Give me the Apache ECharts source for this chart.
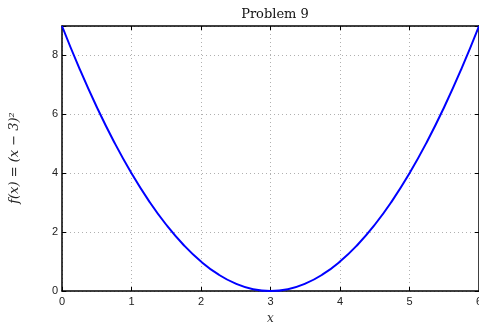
<!DOCTYPE html>
<html><head><meta charset="utf-8">
<script src="https://cdn.jsdelivr.net/npm/echarts@6/dist/echarts.min.js"></script>
<style>html,body{margin:0;padding:0;background:#fff}#c{width:479px;height:325px}</style>
</head><body><div id="c"></div>
<script>
const xValues = [0,0.25,0.5,0.75,1,1.25,1.5,1.75,2,2.25,2.5,2.75,3,3.25,3.5,3.75,4,4.25,4.5,4.75,5,5.25,5.5,5.75,6];
const yValues = [9,7.5625,6.25,5.0625,4,3.0625,2.25,1.5625,1,0.5625,0.25,0.0625,0,0.0625,0.25,0.5625,1,1.5625,2.25,3.0625,4,5.0625,6.25,7.5625,9];
const xTicks = [0,1,2,3,4,5,6];
const yTicks = [0,2,4,6,8];
const titleText = 'Problem 9';
const xLabel = 'x';

const chart = echarts.init(document.getElementById('c'), null, {renderer:'canvas'});
const axisLine = {show:true, onZero:false, lineStyle:{color:'#000', width:1.5}};
const gridLine = {show:true, lineStyle:{color:'#b0b0b0', width:1, type:[1,3]}};
const tickLbl = {fontFamily:'Liberation Sans, Arial, sans-serif', fontSize:11, color:'#222'};
chart.setOption({
  animation:false,
  title:{text:titleText, left:270, top:3, textAlign:'center',
    textStyle:{fontFamily:'DejaVu Serif, Liberation Serif, serif', fontWeight:'normal', fontSize:13, color:'#111'}},
  grid:{left:62, right:0, top:26, bottom:34, containLabel:false, outerBoundsMode:'none'},
  xAxis:[
    {type:'value', min:0, max:6, interval:1, position:'bottom',
     axisLine, axisTick:{show:true, inside:true, length:4, lineStyle:{color:'#000'}},
     splitLine:gridLine, axisLabel:Object.assign({margin:5, formatter:v=>xTicks.includes(v)?String(v):''}, tickLbl),
     name:xLabel, nameLocation:'middle', nameGap:22,
     nameTextStyle:{fontFamily:'DejaVu Serif, Liberation Serif, serif', fontStyle:'italic', fontSize:12, color:'#333'}},
    {type:'value', min:0, max:6, interval:1, position:'top',
     axisLine, axisTick:{show:true, inside:true, length:4, lineStyle:{color:'#000'}},
     splitLine:{show:false}, axisLabel:{show:false}}
  ],
  yAxis:[
    {type:'value', min:0, max:9, interval:2, position:'left',
     axisLine, axisTick:{show:true, inside:true, length:4, lineStyle:{color:'#000'}},
     splitLine:gridLine, axisLabel:Object.assign({margin:4, formatter:v=>yTicks.includes(v)?String(v):''}, tickLbl)},
    {type:'value', min:0, max:9, interval:2, position:'right',
     axisLine, axisTick:{show:true, inside:true, length:4, lineStyle:{color:'#000'}},
     splitLine:{show:false}, axisLabel:{show:false}}
  ],
  graphic:[{
    type:'text', x:15, y:158, rotation:Math.PI/2,
    style:{text:'f(x) = (x − 3)²', fill:'#222', fontFamily:'DejaVu Serif, Liberation Serif, serif', fontStyle:'italic', fontSize:13,
      textAlign:'center', textVerticalAlign:'middle'}
  }],
  series:[{
    type:'line', xAxisIndex:0, yAxisIndex:0, smooth:true, showSymbol:false,
    data:xValues.map((x,i)=>[x,yValues[i]]),
    lineStyle:{color:'#0000ff', width:2}, clip:false
  }]
});
</script></body></html>
